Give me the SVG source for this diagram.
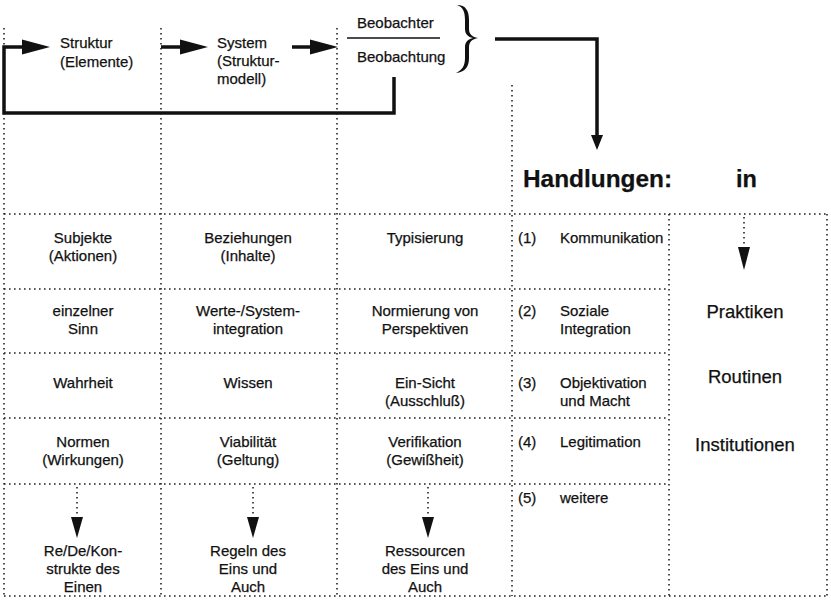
<svg xmlns="http://www.w3.org/2000/svg" width="831" height="605" viewBox="0 0 831 605">
<style>
text{font-family:"Liberation Sans",Arial,sans-serif;fill:#111;stroke:#111;stroke-width:0.25;font-size:15px}
.c{text-anchor:middle}
.b{font-weight:bold;font-size:23.5px}
.l{font-size:18.5px;text-anchor:middle}
.dot{stroke:#222;stroke-width:1.6;stroke-dasharray:1.6 3.4;fill:none}
.thick{stroke:#111;stroke-width:3.5;fill:none}
.head{fill:#111}
</style>
<rect width="831" height="605" fill="#fff"/>
<g id="grid">
<line class="dot" x1="4" y1="28" x2="4" y2="596"/>
<line class="dot" x1="161" y1="28" x2="161" y2="596"/>
<line class="dot" x1="337" y1="28" x2="337" y2="596"/>
<line class="dot" x1="512" y1="85" x2="512" y2="596"/>
<line class="dot" x1="669" y1="214" x2="669" y2="596"/>
<line class="dot" x1="827" y1="214" x2="827" y2="596"/>
<line class="dot" x1="4" y1="214" x2="827" y2="214"/>
<line class="dot" x1="4" y1="289" x2="669" y2="289"/>
<line class="dot" x1="4" y1="353" x2="669" y2="353"/>
<line class="dot" x1="4" y1="418" x2="669" y2="418"/>
<line class="dot" x1="4" y1="484" x2="669" y2="484"/>
<line class="dot" x1="4" y1="596" x2="827" y2="596"/>
</g>
<g id="connectors">
<polyline class="thick" points="394,77 394,113 4,113 4,47 26,47"/>
<polygon class="head" points="22,39.5 50,47 22,54.5"/>
<line class="thick" x1="161" y1="47" x2="184" y2="47"/>
<polygon class="head" points="180,39.5 208,47 180,54.5"/>
<line class="thick" x1="292" y1="47" x2="314" y2="47"/>
<polygon class="head" points="310,39.5 338,47 310,54.5"/>
<polyline class="thick" points="495,39 597,39 597,138"/>
<polygon class="head" points="591,135 603,135 597,150"/>
<line class="dot" x1="77" y1="487" x2="77" y2="518"/>
<polygon class="head" points="71,517 83,517 77,538"/>
<line class="dot" x1="253" y1="487" x2="253" y2="518"/>
<polygon class="head" points="247,517 259,517 253,538"/>
<line class="dot" x1="428" y1="487" x2="428" y2="518"/>
<polygon class="head" points="422,517 434,517 428,538"/>
<line class="dot" x1="744" y1="217" x2="744" y2="248"/>
<polygon class="head" points="738,247 750,247 744,270"/>
</g>
<g id="struktur"><text x="60" y="48">Struktur</text><text x="60" y="67">(Elemente)</text></g>
<g id="system"><text x="217" y="48">System</text><text x="217" y="66">(Struktur-</text><text x="217" y="84">modell)</text></g>
<g id="beobachter">
<text x="357" y="28">Beobachter</text>
<line x1="347" y1="38" x2="440" y2="38" stroke="#111" stroke-width="1.5"/>
<text x="357" y="62">Beobachtung</text>
<path d="M457,5 C466,5 469,11 469,20 L469,29 C469,34 472,37 478,38 C472,39 469,42 469,47 L469,58 C469,67 465,72 456,73 C462,70 465,66 465,58 L465,47 C465,42 468,39 473,38 C468,37 465,34 465,29 L465,20 C465,12 463,7 457,5 Z" fill="#111"/>
</g>
<g id="handlungen"><text class="b" x="523" y="187" textLength="149" lengthAdjust="spacingAndGlyphs">Handlungen:</text><text class="b" x="736" y="187">in</text></g>
<g id="r1c1"><text class="c" x="83" y="243">Subjekte</text><text class="c" x="83" y="261">(Aktionen)</text></g>
<g id="r1c2"><text class="c" x="248" y="243">Beziehungen</text><text class="c" x="248" y="261">(Inhalte)</text></g>
<g id="r1c3"><text class="c" x="425" y="243">Typisierung</text></g>
<g id="r2c1"><text class="c" x="83" y="316">einzelner</text><text class="c" x="83" y="334">Sinn</text></g>
<g id="r2c2"><text class="c" x="248" y="316">Werte-/System-</text><text class="c" x="248" y="334">integration</text></g>
<g id="r2c3"><text class="c" x="425" y="316">Normierung von</text><text class="c" x="425" y="334">Perspektiven</text></g>
<g id="r3c1"><text class="c" x="83" y="388">Wahrheit</text></g>
<g id="r3c2"><text class="c" x="248" y="388">Wissen</text></g>
<g id="r3c3"><text class="c" x="425" y="388">Ein-Sicht</text><text class="c" x="425" y="406">(Ausschluß)</text></g>
<g id="r4c1"><text class="c" x="83" y="447">Normen</text><text class="c" x="83" y="465">(Wirkungen)</text></g>
<g id="r4c2"><text class="c" x="248" y="447">Viabilität</text><text class="c" x="248" y="465">(Geltung)</text></g>
<g id="r4c3"><text class="c" x="425" y="447">Verifikation</text><text class="c" x="425" y="465">(Gewißheit)</text></g>
<g id="r5c1"><text class="c" x="83" y="556">Re/De/Kon-</text><text class="c" x="83" y="574">strukte des</text><text class="c" x="83" y="592">Einen</text></g>
<g id="r5c2"><text class="c" x="248" y="556">Regeln des</text><text class="c" x="248" y="574">Eins und</text><text class="c" x="248" y="592">Auch</text></g>
<g id="r5c3"><text class="c" x="425" y="556">Ressourcen</text><text class="c" x="425" y="574">des Eins und</text><text class="c" x="425" y="592">Auch</text></g>
<g id="h1"><text x="518" y="243">(1)</text><text x="560" y="243">Kommunikation</text></g>
<g id="h2"><text x="518" y="316">(2)</text><text x="560" y="316">Soziale</text><text x="560" y="334">Integration</text></g>
<g id="h3"><text x="518" y="388">(3)</text><text x="560" y="388">Objektivation</text><text x="560" y="406">und Macht</text></g>
<g id="h4"><text x="518" y="447">(4)</text><text x="560" y="447">Legitimation</text></g>
<g id="h5"><text x="518" y="503">(5)</text><text x="560" y="503">weitere</text></g>
<g id="praktiken"><text class="l" x="745" y="318">Praktiken</text></g>
<g id="routinen"><text class="l" x="745" y="383">Routinen</text></g>
<g id="institutionen"><text class="l" x="745" y="451">Institutionen</text></g>
</svg>
